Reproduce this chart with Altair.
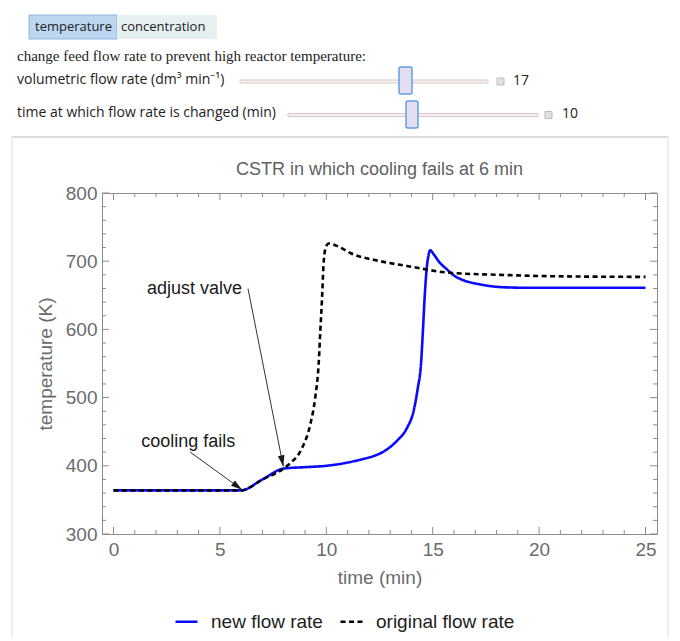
import math
import altair as alt
import pandas as pd

# ---------------- data ----------------
series = ["new flow rate", "original flow rate"]

new_t = [0, 6, 7, 8, 9, 10, 10.7, 11.6, 12.2, 12.7, 13.3, 13.8, 14.1, 14.3, 14.45,
         14.54, 14.62, 14.72, 14.8, 14.88, 15.05, 15.3, 15.67, 16.0, 16.45, 17.23, 18.2, 19.5, 25]
new_T = [364, 364, 380, 396, 398, 400, 403, 409, 414, 421, 436, 456, 480, 514, 549,
         598, 646, 690, 708, 716, 710, 699, 688, 679, 672, 666, 662, 661, 661]

orig_t = [0, 6, 7, 8, 8.31, 8.86, 9.25, 9.48, 9.64, 9.72, 9.80, 9.87, 9.95, 10.03,
          10.11, 10.66, 11.13, 12.54, 13.79, 15.8, 18.17, 20.5, 25]
orig_T = [364, 364, 380, 396, 404, 426, 461, 500, 549, 598, 646, 695, 718, 724,
          726, 720, 712, 700, 693, 683, 680, 678, 677]

x_major = [0, 5, 10, 15, 20, 25]
x_minor = [1, 2, 3, 4, 6, 7, 8, 9, 11, 12, 13, 14, 16, 17, 18, 19, 21, 22, 23, 24]
y_major = [300, 400, 500, 600, 700, 800]
y_minor = [320, 340, 360, 380, 420, 440, 460, 480, 520, 540, 560, 580,
           620, 640, 660, 680, 720, 740, 760, 780]

ann_text = ["cooling fails", "adjust valve"]
ann_tx = [3.51, 3.81]
ann_ty = [434.5, 659.8]
arr_x1 = [3.60, 6.32]
arr_y1 = [420.2, 659.8]
arr_x2 = [6.04, 7.98]
arr_y2 = [365.0, 399.0]

title_text = "CSTR in which cooling fails at 6 min"
x_title = "time (min)"
y_title = "temperature (K)"

# ---------------- layout ----------------
W, H = 555, 341
XDOM = [-0.54, 25.54]
YDOM = [300, 800]
FONT = "Liberation Sans"
GRAY = "#6b6b6b"
FRAME = "#8c8c8c"

xs = alt.Scale(domain=XDOM, nice=False, zero=False)
ys = alt.Scale(domain=YDOM, nice=False, zero=False)
x_axis = alt.Axis(values=x_major, labelPadding=6, titlePadding=9, title=x_title)
y_axis = alt.Axis(values=y_major, labelPadding=5, titlePadding=10, title=y_title)


def X(field):
    return alt.X(field, type="quantitative", scale=xs, axis=x_axis, title=x_title)


def Y(field):
    return alt.Y(field, type="quantitative", scale=ys, axis=y_axis, title=y_title)


new_df = pd.DataFrame({"t": new_t, "T": new_T, "series": series[0]})
orig_df = pd.DataFrame({"t": orig_t, "T": orig_T, "series": series[1]})

leg = alt.Legend(title=None, orient="none", direction="horizontal",
                 legendX=72, legendY=416, symbolType="stroke", symbolSize=484,
                 symbolStrokeWidth=2.6, labelFontSize=19, labelFont=FONT,
                 labelColor="#222222", labelOffset=12, columnPadding=12, padding=0)
color = alt.Color("series:N", scale=alt.Scale(domain=series, range=["#0a0aff", "#000000"]), legend=leg)
dash = alt.StrokeDash("series:N", scale=alt.Scale(domain=series, range=[[1, 0], [5, 3.5]]), legend=leg)

line_new = alt.Chart(new_df).mark_line(strokeWidth=2.6, interpolate="monotone").encode(
    x=X("t"), y=Y("T"), color=color, strokeDash=dash)
line_orig = alt.Chart(orig_df).mark_line(strokeWidth=2.6, interpolate="monotone").encode(
    x=X("t"), y=Y("T"), color=color, strokeDash=dash)


# frame ticks pointing inward
def tick_layers():
    out = []
    for vals, ln in [(x_major, 7), (x_minor, 4)]:
        d = pd.DataFrame({"v": vals})
        for y0, y1 in [(H, H - ln), (0, ln)]:
            out.append(alt.Chart(d).mark_rule(color=FRAME, strokeWidth=1).encode(
                x=X("v"), y=alt.value(y0), y2=alt.value(y1)))
    for vals, ln in [(y_major, 7), (y_minor, 4)]:
        d = pd.DataFrame({"v": vals})
        for x0, x1 in [(0, ln), (W, W - ln)]:
            out.append(alt.Chart(d).mark_rule(color=FRAME, strokeWidth=1).encode(
                y=Y("v"), x=alt.value(x0), x2=alt.value(x1)))
    return out


# annotations
sx = W / (XDOM[1] - XDOM[0])
sy = H / (YDOM[1] - YDOM[0])
angles = [(math.degrees(math.atan2((b - a) * sx, (d - c) * sy)) + 360) % 360
          for a, b, c, d in zip(arr_x1, arr_x2, arr_y1, arr_y2)]
arr_df = pd.DataFrame({"x1": arr_x1, "y1": arr_y1, "x2": arr_x2, "y2": arr_y2, "ang": angles})
ann_df = pd.DataFrame({"label": ann_text, "x": ann_tx, "y": ann_ty})

arrows = alt.Chart(arr_df).mark_rule(color="#333333", strokeWidth=1).encode(
    x=X("x1"), y=Y("y1"), x2="x2:Q", y2="y2:Q")
heads = alt.Chart(arr_df).mark_point(
    shape="M0,0L-0.34,1.15L0.34,1.15Z", filled=True, color="#1a1a1a", opacity=1, size=380
).encode(x=X("x2"), y=Y("y2"), angle=alt.Angle("ang:Q", scale=None))
ann = alt.Chart(ann_df).mark_text(font=FONT, fontSize=18, color="#1a1a1a",
                                  align="center", baseline="middle").encode(
    x=X("x"), y=Y("y"), text="label:N")

# ---------------- control panel above the plot (pixel offsets from plot origin) ----------------
one = pd.DataFrame({"k": [0]})


def box(x0, x1, y0, y1, fill, stroke=None, sw=1, r=0):
    kw = dict(fill=fill, cornerRadius=r)
    if stroke:
        kw.update(stroke=stroke, strokeWidth=sw)
    return alt.Chart(one).mark_rect(**kw).encode(
        x=alt.value(x0), x2=alt.value(x1), y=alt.value(y0), y2=alt.value(y1))


def label(txt, x, y, font="Open Sans", size=14, color="#222222", align="left"):
    return alt.Chart(pd.DataFrame({"s": [txt]})).mark_text(
        font=font, fontSize=size, color=color, align=align, baseline="middle").encode(
        x=alt.value(x), y=alt.value(y), text="s:N")


def hline(x0, x1, y, color, sw=1):
    return alt.Chart(one).mark_rule(color=color, strokeWidth=sw).encode(
        x=alt.value(x0), x2=alt.value(x1), y=alt.value(y))


def vline(x, y0, y1, color, sw=1):
    return alt.Chart(one).mark_rule(color=color, strokeWidth=sw).encode(
        x=alt.value(x), y=alt.value(y0), y2=alt.value(y1))


controls = [
    box(-73, 15, -178, -154, "#bcd6f2", "#8fb4de"),
    box(15, 115, -178, -154, "#e6f0f0"),
    label("temperature", -67, -166, size=13),
    label("concentration", 19, -166, size=13),
    label("change feed flow rate to prevent high reactor temperature:", -85, -137,
          font="Liberation Serif", size=15),
    label("volumetric flow rate (dm³ min⁻¹)", -85, -113),
    label("time at which flow rate is changed (min)", -85, -80),
    box(138, 386, -113, -110, "#f6f0f0", "#d8c8c8"),
    box(186, 436, -79.5, -76.5, "#f6f0f0", "#d8c8c8"),
    box(297, 310, -126, -99, "#e4dff0", "#5ea0e6", 1.5, 2),
    box(304, 316, -92, -65, "#e4dff0", "#5ea0e6", 1.5, 2),
    box(395, 402, -115, -108, "#e2e2e2", "#bbbbbb"),
    box(443, 450, -81.5, -74.5, "#e2e2e2", "#bbbbbb"),
    label("17", 411, -112),
    label("10", 460, -79),
    hline(-90, 566, -56, "#cfcfcf", 1.5),
    vline(-90, -56, 450, "#dcdcdc"),
    vline(566, -56, 450, "#dcdcdc"),
    label(title_text, W / 2, -23, font=FONT, size=18, color="#606060", align="center"),
]

layers = tick_layers() + [line_new, line_orig, arrows, heads, ann] + controls

chart = alt.layer(*layers).properties(
    width=W, height=H,
    autosize=alt.AutoSizeParams(type="none"),
    padding={"left": 94, "top": 185, "right": 12, "bottom": 104},
).configure_view(
    stroke=FRAME, strokeWidth=1
).configure_axis(
    grid=False, ticks=False, domain=False,
    labelFont=FONT, labelFontSize=19, labelColor=GRAY,
    titleFont=FONT, titleFontSize=19, titleColor=GRAY, titleFontWeight="normal",
)

chart.save("out.html", embed_options={"renderer": "svg", "actions": False})
